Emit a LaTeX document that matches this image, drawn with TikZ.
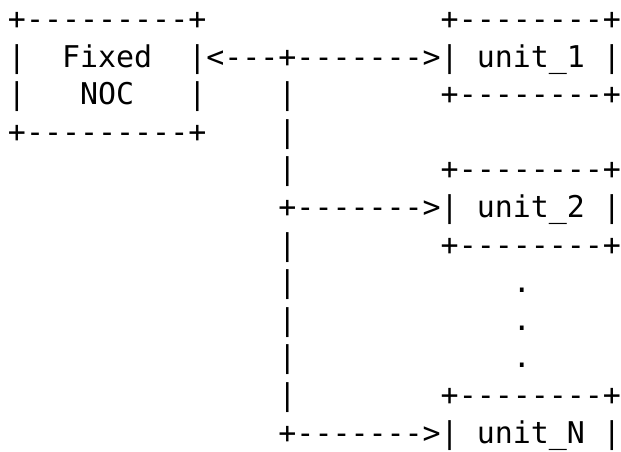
\documentclass[tikz,border=0pt]{standalone}
\usepackage{fontspec}
\setmonofont{DejaVu Sans Mono}
\begin{document}
\begin{tikzpicture}[x=1pt,y=1pt,
  txt/.style={inner sep=0pt,outer sep=0pt,anchor=base west,
    font=\ttfamily\fontsize{29.95}{37.6}\selectfont,text=black}]
\useasboundingbox[fill=white] (0,0) rectangle (621,451);
\newcommand\seg[4]{\node[txt] (#1) at ({8+18.03*#2},{451-29.5-37.6*#3}) {#4};}
% row 0
\seg{noctop}{0}{0}{+---------+}
\seg{uAtop}{24}{0}{+--------+}
% row 1
\seg{nocl1}{0}{1}{|}
\seg{fixed}{3}{1}{Fixed}
\seg{link1}{10}{1}{|<---+------->|}
\seg{uA}{26}{1}{unit\_1}
\seg{uAr}{33}{1}{|}
% row 2
\seg{nocl2}{0}{2}{|}
\seg{noc}{4}{2}{NOC}
\seg{nocr2}{10}{2}{|}
\seg{bus2}{15}{2}{|}
\seg{uAbot}{24}{2}{+--------+}
% row 3
\seg{nocbot}{0}{3}{+---------+}
\seg{bus3}{15}{3}{|}
% row 4
\seg{bus4}{15}{4}{|}
\seg{uBtop}{24}{4}{+--------+}
% row 5
\seg{link2}{15}{5}{+------->|}
\seg{uB}{26}{5}{unit\_2}
\seg{uBr}{33}{5}{|}
% row 6
\seg{bus6}{15}{6}{|}
\seg{uBbot}{24}{6}{+--------+}
% rows 7-9
\seg{bus7}{15}{7}{|}
\seg{dot1}{28}{7}{.}
\seg{bus8}{15}{8}{|}
\seg{dot2}{28}{8}{.}
\seg{bus9}{15}{9}{|}
\seg{dot3}{28}{9}{.}
% row 10
\seg{bus10}{15}{10}{|}
\seg{uNtop}{24}{10}{+--------+}
% row 11
\seg{linkN}{15}{11}{+------->|}
\seg{uN}{26}{11}{unit\_N}
\seg{uNr}{33}{11}{|}
\end{tikzpicture}
\end{document}
